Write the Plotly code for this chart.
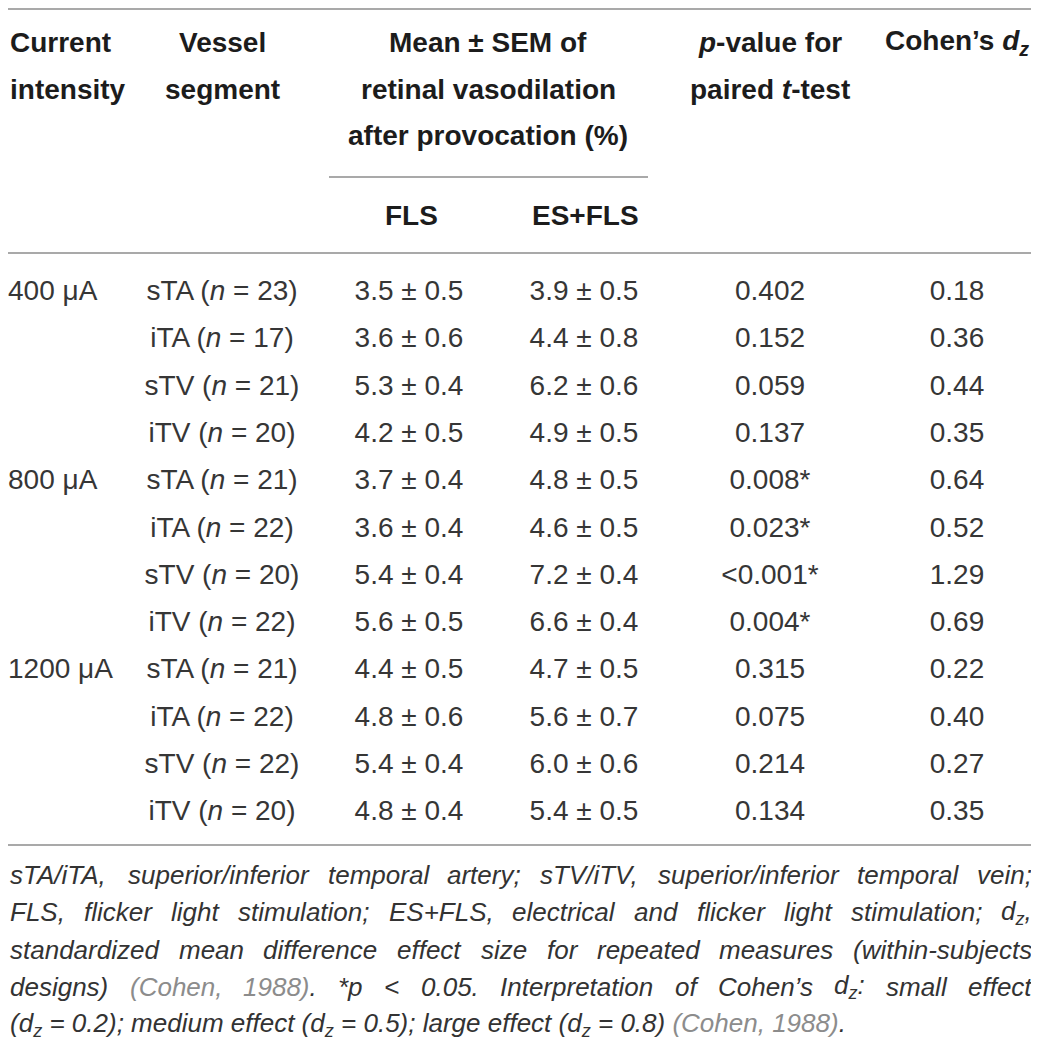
import re
import plotly.graph_objects as go

# table values
currents = ["400 μA", "800 μA", "1200 μA"]
segments = ["sTA", "iTA", "sTV", "iTV"]
n_values = [23, 17, 21, 20, 21, 22, 20, 22, 21, 22, 22, 20]
fls_mean = [3.5, 3.6, 5.3, 4.2, 3.7, 3.6, 5.4, 5.6, 4.4, 4.8, 5.4, 4.8]
fls_sem = [0.5, 0.6, 0.4, 0.5, 0.4, 0.4, 0.4, 0.5, 0.5, 0.6, 0.4, 0.4]
es_mean = [3.9, 4.4, 6.2, 4.9, 4.8, 4.6, 7.2, 6.6, 4.7, 5.6, 6.0, 5.4]
es_sem = [0.5, 0.8, 0.6, 0.5, 0.5, 0.5, 0.4, 0.4, 0.5, 0.7, 0.6, 0.5]
p_values = ["0.402", "0.152", "0.059", "0.137", "0.008*", "0.023*",
            "<0.001*", "0.004*", "0.315", "0.075", "0.214", "0.134"]
cohen_dz = [0.18, 0.36, 0.44, 0.35, 0.64, 0.52, 1.29, 0.69, 0.22, 0.40, 0.27, 0.35]

GRAY = "<span style='color:#8c8c8c'>{}</span>"
footnote = [
    "sTA/iTA, superior/inferior temporal artery; sTV/iTV, superior/inferior temporal vein;",
    "FLS, flicker light stimulation; ES+FLS, electrical and flicker light stimulation; d<sub>z</sub>,",
    "standardized mean difference effect size for repeated measures (within-subjects",
    "designs) " + GRAY.format("(Cohen,") + " " + GRAY.format("1988)") + ". *p &lt; 0.05. Interpretation of Cohen’s d<sub>z</sub>: small effect",
    "(d<sub>z</sub> = 0.2); medium effect (d<sub>z</sub> = 0.5); large effect (d<sub>z</sub> = 0.8) " + GRAY.format("(Cohen, 1988)") + ".",
]

W, H = 1039, 1043
OFF = 8  # page margin of the html body; the figure starts here
row_y0, row_dy = 293, 47.3
col_x = {"cur": OFF, "seg": 222, "fls": 409, "es": 584, "p": 770, "dz": 957}
body_font = dict(family="Liberation Sans, Arial, sans-serif", size=28, color="#363636")
head_font = dict(family="Liberation Sans, Arial, sans-serif", size=28, color="#1c1c1c")
foot_font = dict(family="Liberation Sans, Arial, sans-serif", size=26, color="#333333")
rule_color = "#a9a9a9"

n_rows = len(n_values)
row_y = [row_y0 + i * row_dy for i in range(n_rows)]
seg_text = [f"{segments[i % 4]} (<i>n</i> = {n_values[i]})" for i in range(n_rows)]
fls_text = [f"{m:.1f} ± {s:.1f}" for m, s in zip(fls_mean, fls_sem)]
es_text = [f"{m:.1f} ± {s:.1f}" for m, s in zip(es_mean, es_sem)]
dz_text = [f"{d:.2f}" for d in cohen_dz]

fig = go.Figure()

# body cells; the current intensity sits on the first row of each group
fig.add_trace(go.Scatter(x=[col_x["cur"]] * len(currents), y=row_y[::len(segments)], text=currents,
                         mode="text", textposition="middle right", textfont=body_font,
                         hoverinfo="skip", cliponaxis=False))
for key, col in [("seg", seg_text), ("fls", fls_text), ("es", es_text),
                 ("p", p_values), ("dz", dz_text)]:
    fig.add_trace(go.Scatter(x=[col_x[key]] * n_rows, y=row_y, text=col, mode="text",
                             textposition="middle center", textfont=body_font, hoverinfo="skip"))


# header
def head(x, y, text, anchor="center"):
    fig.add_annotation(x=x, y=y, text=f"<b>{text}</b>", showarrow=False, xanchor=anchor,
                       yanchor="middle", font=head_font, xref="x", yref="y")


head(OFF, 42, "Current", "left")
head(OFF, 89, "intensity", "left")
head(col_x["seg"], 42, "Vessel")
head(col_x["seg"], 89, "segment")
head(488, 42, "Mean ± SEM of")
head(488, 89, "retinal vasodilation")
head(488, 135, "after provocation (%)")
head(411, 215, "FLS")
head(585, 215, "ES+FLS")
head(770, 42, "<i>p</i>-value for")
head(770, 89, "paired <i>t</i>-test")
head(957, 42, "Cohen’s <i>d<sub>z</sub></i>")

# rules
for y0, x0, x1 in [(OFF + 1, 0, W), (177, 329, 648), (253, 0, W), (845, 0, W)]:
    fig.add_shape(type="line", x0=x0, x1=x1, y0=y0, y1=y0, xref="x", yref="y",
                  line=dict(color=rule_color, width=2))

# footnote, justified word by word (Arial advance widths, 1/1000 em)
ADV = {" ": 278, ",": 278, ".": 278, ";": 278, ":": 278, "/": 278, "(": 333, ")": 333,
       "-": 333, "*": 389, "+": 584, "=": 584, "<": 584, "’": 222}
ADV.update({c: 556 for c in "0123456789abdegnopqu"})
ADV.update({c: 500 for c in "cksvxyz"})
ADV.update({"f": 278, "t": 278, "i": 222, "j": 222, "l": 222, "m": 833, "r": 333, "w": 722, "h": 556})
ADV.update({"A": 667, "C": 722, "E": 667, "F": 611, "I": 278, "L": 556, "S": 667, "T": 611, "V": 667})


def text_width(markup, size):
    total = 0.0
    for i, part in enumerate(re.split(r"<sub>|</sub>", markup)):
        plain = re.sub(r"<[^>]+>", "", part).replace("&lt;", "<")
        scale = 0.7 if i % 2 == 1 else 1.0
        total += sum(ADV.get(c, 556) for c in plain) * scale
    return total * size / 1000


foot_x0, foot_x1 = OFF, 1030
foot_y0, foot_dy = 875, 37.3
for i, line in enumerate(footnote):
    y = foot_y0 + i * foot_dy
    if i == len(footnote) - 1:
        fig.add_annotation(x=foot_x0, y=y, text=f"<i>{line}</i>", showarrow=False,
                           xanchor="left", yanchor="middle", font=foot_font, xref="x", yref="y")
        continue
    words = re.split(r" (?![^<]*>)", line)
    widths = [text_width(w, foot_font["size"]) for w in words]
    gap = (foot_x1 - foot_x0 - sum(widths)) / (len(words) - 1)
    x = foot_x0
    for w, wd in zip(words, widths):
        fig.add_annotation(x=x, y=y, text=f"<i>{w}</i>", showarrow=False, xanchor="left",
                           yanchor="middle", font=foot_font, xref="x", yref="y")
        x += wd + gap

fig.update_layout(
    width=W, height=H, margin=dict(l=0, r=0, t=0, b=0),
    paper_bgcolor="white", plot_bgcolor="white", showlegend=False,
    xaxis=dict(range=[OFF, W + OFF], visible=False, fixedrange=True),
    yaxis=dict(range=[H + OFF, OFF], visible=False, fixedrange=True),
)

fig.write_html("out.html")
